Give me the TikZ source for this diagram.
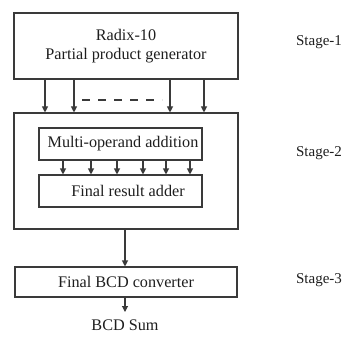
\documentclass[tikz,border=0pt]{standalone}
\usepackage{fontspec}
\setmainfont{Liberation Serif}
\usetikzlibrary{arrows.meta}
\definecolor{ln}{HTML}{3A3A3A}
\definecolor{tx}{HTML}{1E1E1E}
\begin{document}
\begin{tikzpicture}[x=1pt,y=-1pt,
  blk/.style={draw=ln,line width=1.1pt,inner sep=0pt},
  lbl/.style={text=tx,font=\fontsize{16.2}{18.5}\selectfont,inner sep=0pt},
  arr/.style={draw=ln,line width=1.1pt,-{Triangle[width=6pt,length=6pt]}},
  ln/.style={draw=ln,line width=1.1pt}]
\useasboundingbox (0,0) rectangle (345,342);
% Stage 1
\node[blk,minimum width=224pt,minimum height=66pt] (ppg) at (126,46) {};
\node[lbl,align=center] (ppgt) at (126,46) {Radix-10\\Partial product generator};
% Stage 2
\node[blk,minimum width=224pt,minimum height=116pt] (s2) at (126,171) {};
\node[blk,minimum width=163pt,minimum height=32pt] (moa) at (120.5,144) {};
\node[lbl] (moat) at (123,144) {Multi-operand addition};
\node[blk,minimum width=163pt,minimum height=32pt] (fra) at (120.5,191) {};
\node[lbl] (frat) at (128,191) {Final result adder};
% Stage 3
\node[blk,minimum width=222pt,minimum height=30pt] (bcd) at (126,282) {};
\node[lbl] (bcdt) at (126,282) {Final BCD converter};
\node[lbl] (sum) at (125,325) {BCD Sum};
% stage labels
\node[lbl,font=\fontsize{15}{17}\selectfont] (st1) at (319,42) {Stage-1};
\node[lbl,font=\fontsize{15}{17}\selectfont] (st2) at (319,153) {Stage-2};
\node[lbl,font=\fontsize{15}{17}\selectfont] (st3) at (319,280) {Stage-3};
% arrows stage1 -> stage2
\foreach \x in {45,74,170,204}{
  \draw[arr] (ppg.south -| \x,0) -- (s2.north -| \x,0);
}
\coordinate (d1) at (82,100);
\coordinate (d2) at (162,100);
\draw[ln,dash pattern=on 8pt off 8pt] (d1) -- (d2);
% arrows moa -> fra
\foreach \x in {63,91,117,143,166,190}{
  \draw[arr] (moa.south -| \x,0) -- (fra.north -| \x,0);
}
% stage2 -> stage3
\draw[arr] (s2.south -| 125,0) -- (bcd.north -| 125,0);
\coordinate (sumtop) at (125,312);
\draw[arr] (bcd.south -| 125,0) -- (sumtop);
\end{tikzpicture}
\end{document}
